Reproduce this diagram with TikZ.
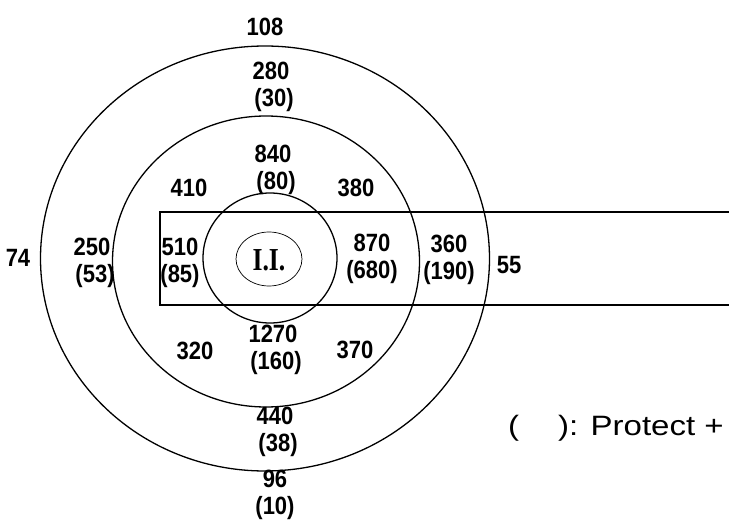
\documentclass[tikz,border=0pt]{standalone}
\usepackage{fontspec}
\setmainfont{Liberation Sans}
\newfontfamily\iifont{Liberation Serif}
\usetikzlibrary{positioning}

\begin{document}
\begin{tikzpicture}[x=1pt,y=-1pt]
	\tikzstyle{num} = [font=\bfseries\fontsize{25}{27}\selectfont, align=center, inner sep=0pt, xscale=0.88]
	\tikzstyle{ring} = [line width=1.3pt]

	\useasboundingbox (0,0) rectangle (729,521);

	% zones
	\draw [ring] (265,258.5) ellipse [x radius=224.5pt, y radius=212.5pt];
	\draw [ring] (266,261.5) ellipse [x radius=153.5pt, y radius=145.5pt];
	\draw [ring] (270,258) ellipse [x radius=67pt, y radius=65pt];
	\draw [ring] (730,212) -- (160,212) -- (160,305) -- (730,305);

	% centre
	\node [font=\iifont\bfseries\fontsize{32}{34}\selectfont, inner sep=0pt, xscale=0.8] (ii) at (269,260) {I.I.};
	\draw [line width=0.7pt] (269,259) ellipse [x radius=33pt, y radius=27pt];

	% values
	\node [num] (n108) at (265,27) {108};
	\node [num] (n280) at (271,87) {280\\\ (30)};
	\node [num] (n840) at (273,170) {840\\\ (80)};
	\node [num] (n410) at (189,188) {410};
	\node [num] (n380) at (356,188) {380};
	\node [num] (n74) at (18,258) {74};
	\node [num] (n250) at (92,263) {250\\\ (53)};
	\node [num] (n510) at (180,263) {510\\(85)};
	\node [num] (n870) at (372,259) {870\\(680)};
	\node [num] (n360) at (449,260) {360\\(190)};
	\node [num] (n55) at (509,265) {55};
	\node [num] (n320) at (195,351) {320};
	\node [num] (n1270) at (273,350) {1270\\\ (160)};
	\node [num] (n370) at (355,350) {370};
	\node [num] (n440) at (275,432) {440\\\ (38)};
	\node [num] (n96) at (275,495) {96\\(10)};

	% legend
	\node [font=\fontsize{28}{30}\selectfont, inner sep=0pt, xscale=1.18, anchor=west] (legend) at (508,428) {(\hspace{33pt}): Protect +};
\end{tikzpicture}
\end{document}
